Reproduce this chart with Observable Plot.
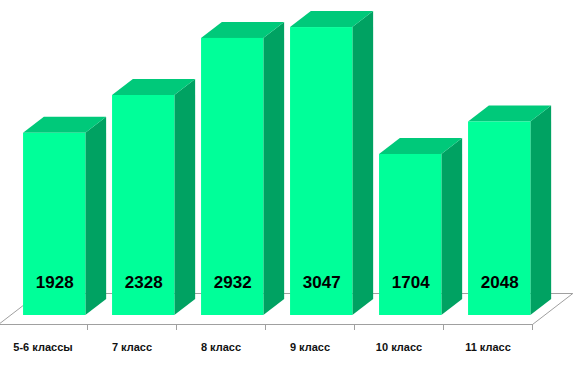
<!DOCTYPE html>
<html>
<head>
<meta charset="utf-8">
<script src="https://cdn.jsdelivr.net/npm/d3@7"></script>
<script src="https://cdn.jsdelivr.net/npm/@observablehq/plot@0.6"></script>
<style>
  html, body { margin: 0; padding: 0; background: #fff; }
  #chart svg { display: block; }
</style>
</head>
<body>
<div id="chart"></div>
<script>
// ---- data ----
const categories = ["5-6 классы", "7 класс", "8 класс", "9 класс", "10 класс", "11 класс"];
const values = [1928, 2328, 2932, 3047, 1704, 2048];

// ---- 3D geometry (pixel depth units) ----
const BAND = 89;          // px per category
const K = 0.0945;         // px per value unit
const SLANT = 1.3;        // horizontal px per vertical px of depth
const BAR_L = 0.15, BAR_R = 0.85;   // bar footprint inside band
const Z_FRONT = 9, Z_BACK = 25;     // bar depth range
const FLOOR_DEPTH = 31;

const colFront = "#00ff99", colTop = "#00c97a", colSide = "#00a262";

// projection: category-unit x, value y, depth z(px) -> data coords
const px = (cx, z) => cx + z * SLANT / BAND;
const py = (v, z) => v + z / K;

const bars = categories.map((c, i) => ({i, c, v: values[i]}));

// side faces
const sideFaces = bars.flatMap(d => [
  {i: d.i, x: px(d.i + BAR_R, Z_FRONT), y1: py(0, Z_FRONT), y2: py(d.v, Z_FRONT)},
  {i: d.i, x: px(d.i + BAR_R, Z_BACK),  y1: py(0, Z_BACK),  y2: py(d.v, Z_BACK)}
]);
// top faces (parallelograms as piecewise areas)
const topFaces = bars.flatMap(d => [
  {i: d.i, x: px(d.i + BAR_L, Z_FRONT), y1: py(d.v, Z_FRONT), y2: py(d.v, Z_FRONT)},
  {i: d.i, x: px(d.i + BAR_L, Z_BACK),  y1: py(d.v, Z_FRONT), y2: py(d.v, Z_BACK)},
  {i: d.i, x: px(d.i + BAR_R, Z_FRONT), y1: py(d.v, Z_FRONT), y2: py(d.v, Z_BACK)},
  {i: d.i, x: px(d.i + BAR_R, Z_BACK),  y1: py(d.v, Z_BACK),  y2: py(d.v, Z_BACK)}
]);

const n = categories.length;
const floorOutline = [
  {x: px(0, 0), y: py(0, 0)},
  {x: px(n, 0), y: py(0, 0)},
  {x: px(n, FLOOR_DEPTH), y: py(0, FLOOR_DEPTH)},
  {x: px(0, FLOOR_DEPTH), y: py(0, FLOOR_DEPTH)},
  {x: px(0, 0), y: py(0, 0)}
];
const tickPositions = d3.range(0, n + 1);

const chart = Plot.plot({
  width: 576,
  height: 365,
  x: {domain: [0, n], range: [-2, 532], axis: null},
  y: {domain: [0, 3000], range: [324, 324 - 3000 * K], axis: null},
  style: {background: "#fff", overflow: "visible"},
  marks: [
    Plot.line(floorOutline, {x: "x", y: "y", stroke: "#a0a0a0", strokeWidth: 1}),
    Plot.ruleX(tickPositions, {x: d => d, y1: 0, y2: -6 / K, stroke: "#a0a0a0", strokeWidth: 1}),
    Plot.areaY(sideFaces, {x: "x", y1: "y1", y2: "y2", z: "i", fill: colSide}),
    Plot.areaY(topFaces, {x: "x", y1: "y1", y2: "y2", z: "i", fill: colTop}),
    Plot.rect(bars, {
      x1: d => px(d.i + BAR_L, Z_FRONT), x2: d => px(d.i + BAR_R, Z_FRONT),
      y1: py(0, Z_FRONT), y2: d => py(d.v, Z_FRONT), fill: colFront
    }),
    Plot.text(bars, {
      x: d => px(d.i + 0.5, Z_FRONT), y: py(0, Z_FRONT), dy: -33,
      text: d => String(d.v), fill: "#000",
      fontSize: 17, fontWeight: "bold", fontFamily: "Liberation Sans, Arial, sans-serif"
    }),
    Plot.text(bars, {
      x: d => d.i + 0.5, y: 0, dy: 23,
      text: "c", fill: "#111",
      fontSize: 11, fontWeight: "bold", fontFamily: "Liberation Sans, Arial, sans-serif"
    })
  ]
});
document.getElementById("chart").appendChild(chart);
</script>
</body>
</html>
